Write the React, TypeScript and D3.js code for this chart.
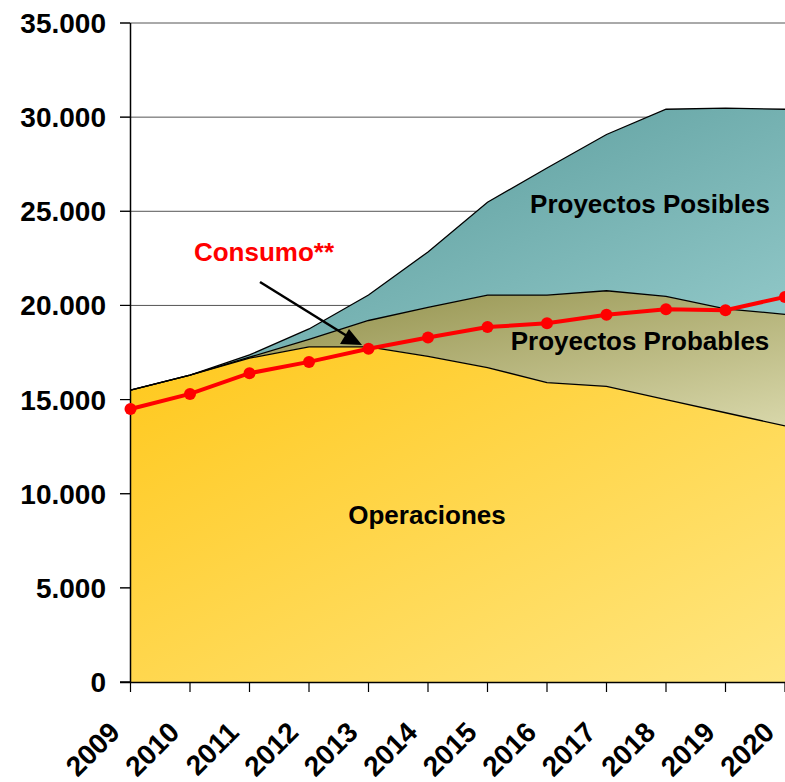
import React from "react";
import * as d3 from "d3";

const years = [2009, 2010, 2011, 2012, 2013, 2014, 2015, 2016, 2017, 2018, 2019, 2020];
const operaciones = [15500, 16300, 17200, 17800, 17800, 17300, 16700, 15900, 15700, 15000, 14300, 13600];
const probables = [0, 0, 50, 400, 1400, 2600, 3850, 4650, 5080, 5480, 5520, 5930];
const posibles = [0, 0, 120, 550, 1350, 2940, 4930, 6750, 8300, 9940, 10660, 10890];
const consumo = [14500, 15300, 16400, 17000, 17700, 18300, 18850, 19050, 19500, 19800, 19750, 20450];
const yTicks = [0, 5000, 10000, 15000, 20000, 25000, 30000, 35000];

const W = 785;
const H = 782;
const FONT = "'Liberation Sans', Arial, Helvetica, sans-serif";

export default function App() {
  const x = d3.scaleLinear().domain([2009, 2020]).range([130.5, 785]);
  const y = d3.scaleLinear().domain([0, 35000]).range([682, 23]);

  const rows = years.map((yr, i) => ({
    year: yr,
    ops: operaciones[i],
    prob: probables[i],
    pos: posibles[i],
  }));
  const stack = d3.stack<any>().keys(["ops", "prob", "pos"]);
  const series = stack(rows);

  const area = d3
    .area<any>()
    .x((d) => x(d.data.year))
    .y0((d) => y(d[0]))
    .y1((d) => y(d[1]));
  const topLine = d3
    .line<any>()
    .x((d) => x(d.data.year))
    .y((d) => y(d[1]));

  const cLine = d3
    .line<number>()
    .x((_, i) => x(years[i]))
    .y((d) => y(d));

  const fills = ["url(#gOps)", "url(#gProb)", "url(#gPos)"];
  const fmt = (v: number) => d3.format(",")(v).replace(/,/g, ".");

  return (
    <svg
      width={W}
      height={H}
      style={{ position: "absolute", left: 0, top: 0, fontFamily: FONT }}
    >
      <defs>
        <linearGradient id="gOps" x1="0" y1="0" x2="1" y2="1">
          <stop offset="0" stopColor="#FFC81C" />
          <stop offset="1" stopColor="#FFE680" />
        </linearGradient>
        <linearGradient id="gProb" x1="0" y1="0" x2="1" y2="1">
          <stop offset="0" stopColor="#8A8840" />
          <stop offset="1" stopColor="#D8D7AA" />
        </linearGradient>
        <linearGradient id="gPos" x1="0" y1="0" x2="1" y2="1">
          <stop offset="0" stopColor="#4E9292" />
          <stop offset="1" stopColor="#9ACFCF" />
        </linearGradient>
        <clipPath id="plotClip">
          <rect x={130} y={0} width={W - 130} height={683} />
        </clipPath>
      </defs>

      {/* gridlines */}
      {yTicks.map((t) => (
        <line
          key={"g" + t}
          x1={120}
          x2={785}
          y1={y(t)}
          y2={y(t)}
          stroke="#555"
          strokeWidth={1}
        />
      ))}

      <g clipPath="url(#plotClip)">
        {series
          .slice()
          .reverse()
          .map((s, k) => {
            const idx = series.length - 1 - k;
            return (
              <path key={"a" + idx} d={area(s) || ""} fill={fills[idx]} />
            );
          })}
        {series.map((s, i) => (
          <path
            key={"l" + i}
            d={topLine(s) || ""}
            fill="none"
            stroke="#000"
            strokeWidth={1.3}
          />
        ))}
      </g>

      {/* axes */}
      <line x1={130.5} x2={130.5} y1={23} y2={682} stroke="#000" strokeWidth={1.5} />
      <line x1={120} x2={785} y1={682.5} y2={682.5} stroke="#000" strokeWidth={1.5} />
      {yTicks.map((t) => (
        <g key={"yt" + t}>
          <line x1={120} x2={130} y1={y(t)} y2={y(t)} stroke="#000" strokeWidth={1.2} />
          <text
            x={106}
            y={y(t) + 10}
            textAnchor="end"
            fontSize={28}
            fontWeight="bold"
            fill="#000"
          >
            {fmt(t)}
          </text>
        </g>
      ))}
      {years.map((yr) => (
        <g key={"xt" + yr}>
          <line x1={x(yr)} x2={x(yr)} y1={682} y2={692} stroke="#000" strokeWidth={1.2} />
          <text
            transform={`translate(${x(yr) - 9},${734}) rotate(-45)`}
            textAnchor="end"
            fontSize={28}
            fontWeight="bold"
            fill="#000"
          >
            {yr}
          </text>
        </g>
      ))}

      {/* consumo line */}
      <path d={cLine(consumo) || ""} fill="none" stroke="#FF0000" strokeWidth={4} />
      {consumo.map((v, i) => (
        <circle key={"c" + i} cx={x(years[i])} cy={y(v)} r={6} fill="#FF0000" />
      ))}

      {/* labels */}
      <text x={650} y={213} textAnchor="middle" fontSize={26} fontWeight="bold" fill="#000">
        Proyectos Posibles
      </text>
      <text x={640} y={350} textAnchor="middle" fontSize={26} fontWeight="bold" fill="#000">
        Proyectos Probables
      </text>
      <text x={427} y={524} textAnchor="middle" fontSize={26} fontWeight="bold" fill="#000">
        Operaciones
      </text>
      <text x={264} y={261} textAnchor="middle" fontSize={26} fontWeight="bold" fill="#FF0000">
        Consumo**
      </text>

      {/* arrow */}
      <line x1={260} y1={282} x2={347} y2={336} stroke="#000" strokeWidth={2.5} />
      <path d="M362,345 L340,344 L349,329 Z" fill="#000" />
    </svg>
  );
}
